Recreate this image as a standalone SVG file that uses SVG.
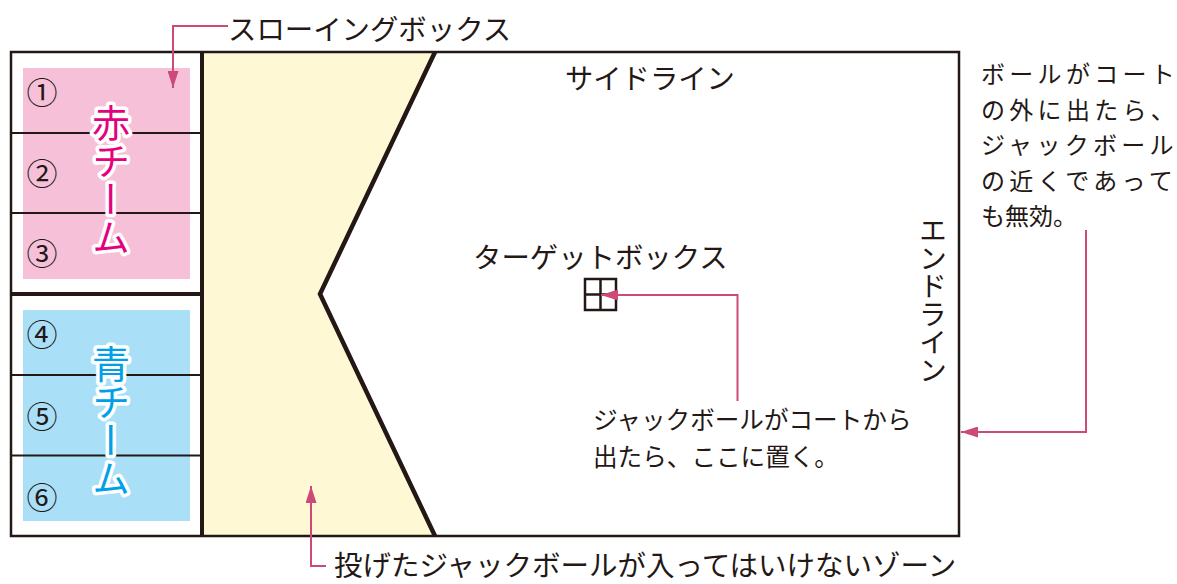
<svg xmlns="http://www.w3.org/2000/svg" width="1177" height="584" viewBox="0 0 1177 584">
<style>
.t{font-family:"Noto Sans CJK JP","Noto Sans CJK SC",sans-serif;fill:#231815;dominant-baseline:central}
.line{stroke:#231815;fill:none}
.con{stroke:#cc4a78;stroke-width:2;fill:none;marker-end:url(#ah)}
.team{font-family:"Noto Sans CJK JP",sans-serif;font-size:38px;writing-mode:vertical-rl;text-orientation:upright;stroke:#fff;stroke-width:7px;stroke-linejoin:round;paint-order:stroke}
.num{font-family:"Noto Sans CJK JP",sans-serif;font-size:31px;fill:#231815;text-anchor:middle;dominant-baseline:central}
</style>
<defs>
<marker id="ah" markerUnits="userSpaceOnUse" viewBox="0 0 17 11" markerWidth="17" markerHeight="11" refX="17" refY="5.5" orient="auto">
<path d="M0,0 L17,5.5 L0,11 z" fill="#cc4a78"/>
</marker>
</defs>
<rect width="1177" height="584" fill="#fff"/>
<g id="court">
<polygon points="203,52 435,52 320,294 435,536 203,536" fill="#fef9d4"/>
<rect x="11" y="52" width="948" height="484" class="line" stroke-width="2.5"/>
<polyline points="435,52 320,294 435,536" class="line" stroke-width="4.5"/>
</g>
<g id="throwing-boxes">
<rect x="23" y="68" width="167" height="211" fill="#f6c1d8"/>
<rect x="23" y="310" width="167" height="211" fill="#aadff8"/>
<line x1="11" y1="133" x2="202" y2="133" class="line" stroke-width="2"/>
<line x1="11" y1="213" x2="202" y2="213" class="line" stroke-width="2"/>
<line x1="11" y1="294" x2="202" y2="294" class="line" stroke-width="4"/>
<line x1="11" y1="375" x2="202" y2="375" class="line" stroke-width="2"/>
<line x1="11" y1="455.5" x2="202" y2="455.5" class="line" stroke-width="2"/>
<line x1="202" y1="52" x2="202" y2="536" class="line" stroke-width="4"/>
<text class="num" x="42" y="90">①</text>
<text class="num" x="42" y="171">②</text>
<text class="num" x="42" y="251">③</text>
<text class="num" x="42" y="332">④</text>
<text class="num" x="42" y="414">⑤</text>
<text class="num" x="42" y="495">⑥</text>
</g>
<g id="red-team"><text class="team" x="111" y="104" fill="#e5007f">赤チーム</text></g>
<g id="blue-team"><text class="team" x="111" y="345" fill="#00a0e9">青チーム</text></g>
<g id="target-box">
<rect x="585" y="279" width="31" height="31" class="line" stroke-width="2.5"/>
<line x1="600.5" y1="279" x2="600.5" y2="310" class="line" stroke-width="2.5"/>
<line x1="585" y1="294.5" x2="616" y2="294.5" class="line" stroke-width="2.5"/>
</g>
<g id="labels">
<text class="t" x="228" y="27" font-size="28.4">スローイングボックス</text>
<text class="t" x="565" y="76" font-size="28.3">サイドライン</text>
<text class="t" x="473" y="255" font-size="28.4">ターゲットボックス</text>
<text class="t" x="933" y="216" font-size="28" style="writing-mode:vertical-rl;text-orientation:upright;dominant-baseline:auto">エンドライン</text>
<text class="t" x="593" y="418" font-size="24.6">ジャックボールがコートから</text>
<text class="t" x="593" y="455" font-size="24.6">出たら、ここに置く。</text>
<text class="t" x="334" y="563" font-size="28.5">投げたジャックボールが入ってはいけないゾーン</text>
<text class="t" x="981" y="72.5" font-size="24" letter-spacing="4.3">ボールがコート</text>
<text class="t" x="981" y="108" font-size="24" letter-spacing="4.3">の外に出たら、</text>
<text class="t" x="981" y="143.5" font-size="24" letter-spacing="4.3">ジャックボール</text>
<text class="t" x="981" y="179" font-size="24" letter-spacing="4.3">の近くであって</text>
<text class="t" x="981" y="214.5" font-size="24">も無効。</text>
</g>
<g id="connectors">
<path class="con" d="M228,26 H173 V88"/>
<path class="con" d="M737.5,401 V295 H601"/>
<path class="con" d="M1086,230 V432 H961"/>
<path class="con" d="M326,566 H311 V486"/>
</g>
</svg>
